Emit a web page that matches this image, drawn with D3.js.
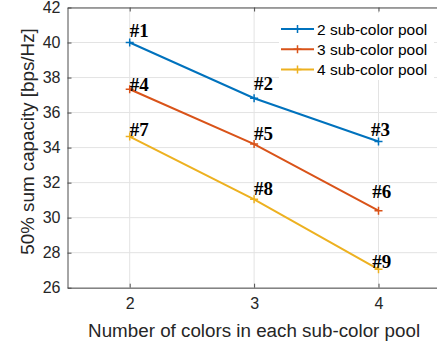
<!DOCTYPE html>
<html>
<head>
<meta charset="utf-8">
<script src="https://cdn.jsdelivr.net/npm/d3@7"></script>
<style>
  body { margin: 0; background: #fff; }
  svg { display: block; }
</style>
</head>
<body>
<div id="chart"></div>
<script>
// data
var xValues = [2, 3, 4];
var seriesNames = ["2 sub-color pool", "3 sub-color pool", "4 sub-color pool"];
var seriesColors = ["#0072BD", "#D95319", "#EDB120"];
var pool2 = [40.0, 36.82, 34.35];
var pool3 = [37.33, 34.2, 30.4];
var pool4 = [34.63, 31.05, 27.05];
var yTicks = [26, 28, 30, 32, 34, 36, 38, 40, 42];

// point labels (#1..#9) anchored in data units
var annotText = ["#1", "#2", "#3", "#4", "#5", "#6", "#7", "#8", "#9"];
var annotX = [2.0, 3.0, 3.94, 2.0, 3.0, 3.95, 2.0, 3.0, 3.95];
var annotY = [40.33, 37.29, 34.66, 37.25, 34.43, 31.12, 34.66, 31.29, 27.12];

var W = 437, H = 347;
var plotLeft = 67.5, plotTop = 7.5, plotBottom = 287.7;

var svg = d3.select("#chart").append("svg")
  .attr("width", W)
  .attr("height", H);

var x = d3.scaleLinear().domain([1.5, 4.5]).range([plotLeft, plotLeft + 3 * 124.4]);
var y = d3.scaleLinear().domain([26, 42]).range([plotBottom, plotTop]);

var series = [pool2, pool3, pool4].map(function (vals, i) {
  return { name: seriesNames[i], color: seriesColors[i],
    points: vals.map(function (v, j) { return { x: xValues[j], y: v }; }) };
});

// grid
var grid = svg.append("g").attr("class", "grid");
grid.selectAll(".vg").data(xValues).enter().append("line")
  .attr("x1", function (d) { return x(d); }).attr("x2", function (d) { return x(d); })
  .attr("y1", plotTop).attr("y2", plotBottom)
  .attr("stroke", "#e3e3e3").attr("stroke-width", 1);
grid.selectAll(".hg").data(yTicks).enter().append("line")
  .attr("x1", plotLeft).attr("x2", x(4.5))
  .attr("y1", function (d) { return y(d); }).attr("y2", function (d) { return y(d); })
  .attr("stroke", "#e3e3e3").attr("stroke-width", 1);

// axes (matlab style: ticks pointing in)
var axisColor = "#4d4d4d";
var xAxis = d3.axisBottom(x).tickValues(xValues).tickFormat(d3.format("d"))
  .tickSizeInner(-4).tickSizeOuter(0).tickPadding(10);
var yAxis = d3.axisLeft(y).tickValues(yTicks).tickSizeInner(-4).tickSizeOuter(0).tickPadding(7);

var gx = svg.append("g").attr("transform", "translate(0," + plotBottom + ")").call(xAxis);
var gy = svg.append("g").attr("transform", "translate(" + plotLeft + ",0)").call(yAxis);
var gxTop = svg.append("g").attr("transform", "translate(0," + plotTop + ")")
  .call(d3.axisTop(x).tickValues(xValues).tickSizeInner(-4).tickSizeOuter(0).tickFormat(""));

[gx, gy, gxTop].forEach(function (g) {
  g.select(".domain").attr("stroke", axisColor).attr("stroke-width", 1);
  g.selectAll(".tick line").attr("stroke", axisColor);
  g.selectAll(".tick text")
    .attr("fill", "#262626")
    .style("font-family", "Liberation Sans, Arial, sans-serif")
    .style("font-size", "16px");
});

// lines
var line = d3.line()
  .x(function (d) { return x(d.x); })
  .y(function (d) { return y(d.y); });

var sg = svg.selectAll(".series").data(series).enter().append("g");
sg.append("path")
  .attr("d", function (d) { return line(d.points); })
  .attr("fill", "none")
  .attr("stroke", function (d) { return d.color; })
  .attr("stroke-width", 2);

// '+' markers
function plus(g, cx, cy, color) {
  g.append("path")
    .attr("d", "M" + (cx - 4) + "," + cy + "H" + (cx + 4) + "M" + cx + "," + (cy - 4) + "V" + (cy + 4))
    .attr("stroke", color).attr("stroke-width", 1.5).attr("fill", "none");
}
sg.each(function (d) {
  var g = d3.select(this);
  d.points.forEach(function (p) { plus(g, x(p.x), y(p.y), d.color); });
});

// annotations
svg.selectAll(".annot").data(annotText).enter().append("text")
  .attr("x", function (d, i) { return x(annotX[i]); })
  .attr("y", function (d, i) { return y(annotY[i]); })
  .attr("fill", "#000")
  .style("font-family", "Liberation Serif, Times New Roman, serif")
  .style("font-weight", "bold")
  .style("font-size", "19px")
  .text(function (d) { return d; });

// legend
var leg = svg.append("g");
leg.append("rect")
  .attr("x", 279).attr("y", 13).attr("width", 155).attr("height", 67)
  .attr("fill", "#fff");
var items = leg.selectAll(".item").data(series).enter().append("g")
  .attr("transform", function (d, i) { return "translate(0," + (29 + i * 20.2) + ")"; });
items.append("line")
  .attr("x1", 281).attr("x2", 314).attr("y1", 0).attr("y2", 0)
  .attr("stroke", function (d) { return d.color; }).attr("stroke-width", 2);
items.each(function (d) { plus(d3.select(this), 297.5, 0, d.color); });
items.append("text")
  .attr("x", 317).attr("y", 0).attr("dy", "0.36em")
  .attr("fill", "#000")
  .style("font-family", "Liberation Sans, Arial, sans-serif")
  .style("font-size", "15.5px")
  .text(function (d) { return d.name; });

// axis labels
svg.append("text")
  .attr("x", (plotLeft + x(4.5)) / 2).attr("y", 337)
  .attr("text-anchor", "middle")
  .attr("fill", "#262626")
  .style("font-family", "Liberation Sans, Arial, sans-serif")
  .style("font-size", "18.8px")
  .text("Number of colors in each sub-color pool");

svg.append("text")
  .attr("transform", "translate(33.5," + 141.5 + ") rotate(-90)")
  .attr("text-anchor", "middle")
  .attr("fill", "#262626")
  .style("font-family", "Liberation Sans, Arial, sans-serif")
  .style("font-size", "18.8px")
  .text("50% sum capacity [bps/Hz]");
</script>
</body>
</html>
